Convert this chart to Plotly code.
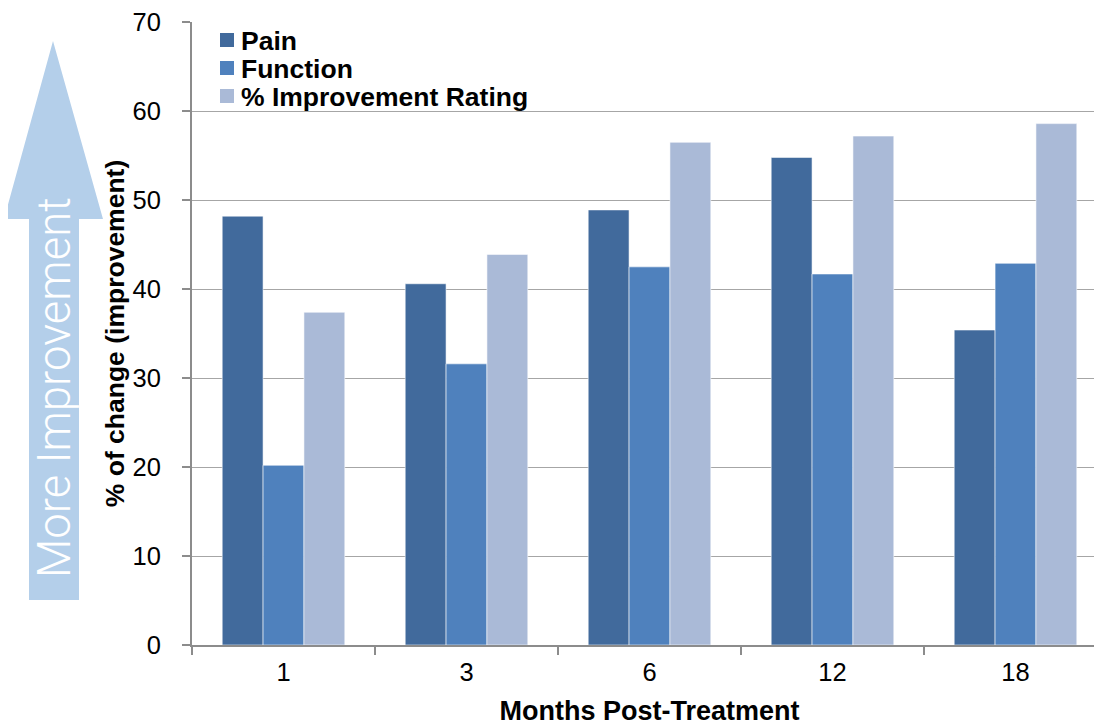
import plotly.graph_objects as go

months = ["1", "3", "6", "12", "18"]
pain = [48.2, 40.6, 48.9, 54.8, 35.4]
function = [20.2, 31.6, 42.5, 41.7, 42.9]
rating = [37.4, 43.9, 56.5, 57.2, 58.6]

series_names = ["Pain", "Function", "% Improvement Rating"]
series_colors = ["#416A9C", "#4F81BD", "#AABAD7"]

OFF = 8  # page body margin
W, H = 1102, 726
L, T = 192 - OFF, 22 - OFF
R = W - (1107 - OFF)
if R < 0:
    R = 0
B = H - (645 - OFF)
pw, ph = W - L - R, H - T - B

def px(x):  # page pixel -> paper
    return (x - OFF - L) / pw

def py(y):
    return (H - B - (y - OFF)) / ph

fig = go.Figure()
for name, vals, col in zip(series_names, [pain, function, rating], series_colors):
    fig.add_trace(go.Bar(
        x=months, y=vals, name=name, showlegend=False,
        marker=dict(color=col, line=dict(color="rgba(255,255,255,0.7)", width=0.8)),
    ))

# manual legend (squares + bold labels)
for i, (name, col) in enumerate(zip(series_names, series_colors)):
    yc = 40 + 28 * i
    fig.add_shape(type="rect", xref="paper", yref="paper",
                  x0=px(220), x1=px(234), y0=py(yc + 7), y1=py(yc - 7),
                  fillcolor=col, line=dict(width=0))
    fig.add_annotation(text=f"<b>{name}</b>", xref="paper", yref="paper",
                       x=px(239), y=py(yc + 1), xanchor="left", yanchor="middle",
                       showarrow=False, font=dict(size=26.5, color="black"))

# arrow on the left
pts = [(53, 41), (103, 219), (79, 219), (79, 600), (29, 600), (29, 219), (4, 219)]
path = "M " + " L ".join(f"{px(a):.5f},{py(b):.5f}" for a, b in pts) + " Z"
fig.add_shape(type="path", path=path, xref="paper", yref="paper",
              fillcolor="#B4CFEA", line=dict(width=0), layer="above")
fig.add_annotation(text="More Improvement", xref="paper", yref="paper",
                   x=px(54), y=py(388), showarrow=False, textangle=-90,
                   font=dict(family="Roboto", size=45.5, color="white", weight=300),
                   xanchor="center", yanchor="middle")

axis_col = "#8C8C8C"
fig.update_layout(
    width=W, height=H,
    margin=dict(l=L, r=R, t=T, b=B, autoexpand=False),
    paper_bgcolor="white", plot_bgcolor="white",
    barmode="group", bargap=0.33, bargroupgap=0,
    font=dict(family="Liberation Sans", color="black"),
    xaxis=dict(type="category", range=[-0.5, 4.5],
               showline=True, linecolor=axis_col, linewidth=2,
               ticks="outside", tickson="boundaries", ticklen=8, tickcolor=axis_col,
               tickwidth=1.5, tickfont=dict(size=25.5), ticklabelstandoff=3,
               showgrid=False,
               title=dict(text="<b>Months Post-Treatment</b>", font=dict(size=27), standoff=17)),
    yaxis=dict(range=[0, 70.02], tickmode="array", tickvals=[0, 10, 20, 30, 40, 50, 60, 70],
               showline=True, linecolor=axis_col, linewidth=2,
               ticks="outside", ticklen=8, tickcolor=axis_col, tickwidth=1.5,
               tickfont=dict(size=25.5), ticklabelstandoff=16,
               showgrid=True, gridcolor="#A6A6A6", gridwidth=1, zeroline=False,
               title=dict(text="<b>% of change (improvement)</b>", font=dict(size=26.5), standoff=0)),
    showlegend=False,
)

fig.write_html("out.html")
